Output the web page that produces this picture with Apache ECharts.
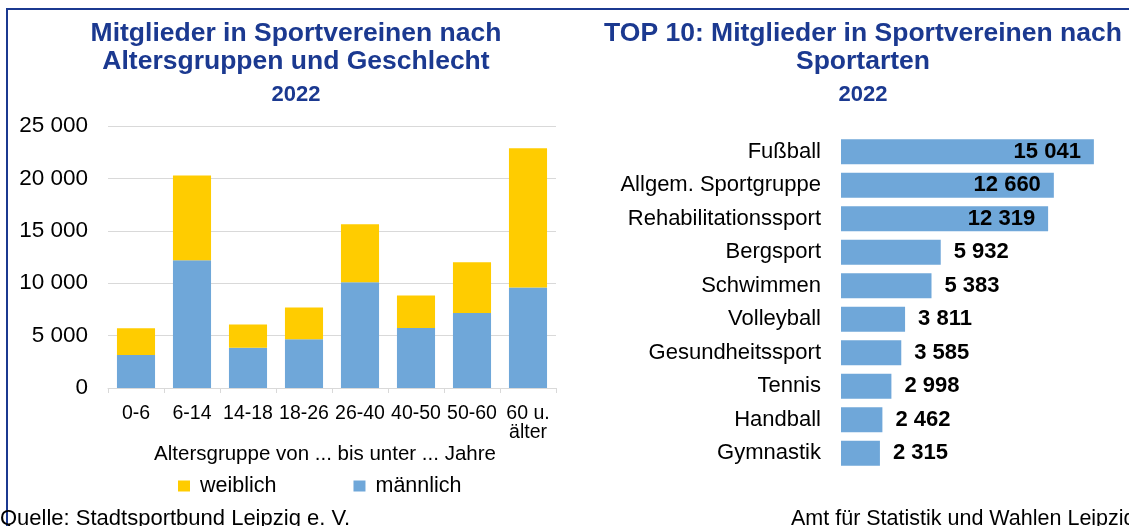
<!DOCTYPE html>
<html>
<head>
<meta charset="utf-8">
<script src="https://cdn.jsdelivr.net/npm/echarts@6/dist/echarts.min.js"></script>
<style>
  html, body { margin: 0; padding: 0; background: #fff; }
  #chart { width: 1129px; height: 526px; }
</style>
</head>
<body>
<div id="chart"></div>
<script>
// Mitglieder nach Altersgruppen und Geschlecht
const altersgruppen = ['0-6', '6-14', '14-18', '18-26', '26-40', '40-50', '50-60', '60 u.\nälter'];
const maennlich = [3150, 12200, 3840, 4640, 10100, 5720, 7150, 9600];
const weiblich = [2550, 8080, 2230, 3050, 5530, 3110, 4860, 13280];

// TOP 10 Sportarten
const sportarten = ['Fußball', 'Allgem. Sportgruppe', 'Rehabilitationssport', 'Bergsport', 'Schwimmen',
  'Volleyball', 'Gesundheitssport', 'Tennis', 'Handball', 'Gymnastik'];
const mitglieder = [15041, 12660, 12319, 5932, 5383, 3811, 3585, 2998, 2462, 2315];

const yTicks = { min: 0, max: 25000, interval: 5000 };

const FONT = '"Liberation Sans", Arial, sans-serif';
const TITLE_BLUE = '#1B3990';
const BLUE = '#6FA7D9';
const YELLOW = '#FFCC00';
const GRID_GRAY = '#D9D9D9';

const fmt = v => String(v).replace(/\B(?=(\d{3})+(?!\d))/g, ' ');

const chart = echarts.init(document.getElementById('chart'), null, { renderer: 'canvas' });

const titleStyle = { fontFamily: FONT, fontSize: 26.5, fontWeight: 'bold', color: TITLE_BLUE, lineHeight: 28 };
const yearStyle = { fontFamily: FONT, fontSize: 22, fontWeight: 'bold', color: TITLE_BLUE, lineHeight: 24 };

const option = {
  animation: false,
  textStyle: { fontFamily: FONT },
  title: [
    {
      text: 'Mitglieder in Sportvereinen nach\nAltersgruppen und Geschlecht',
      subtext: '2022',
      left: 291, top: 15, textAlign: 'center', itemGap: 7,
      textStyle: titleStyle, subtextStyle: yearStyle
    },
    {
      text: 'TOP 10: Mitglieder in Sportvereinen nach\nSportarten',
      subtext: '2022',
      left: 858, top: 15, textAlign: 'center', itemGap: 7,
      textStyle: titleStyle, subtextStyle: yearStyle
    }
  ],
  legend: {
    data: ['weiblich', 'männlich'],
    left: 173, top: 470,
    icon: 'rect', itemWidth: 12, itemHeight: 11, itemGap: 77,
    textStyle: { fontFamily: FONT, fontSize: 21.5, color: '#000', padding: [0, 0, 0, 5] }
  },
  grid: [
    { left: 108, top: 126, width: 448, height: 262 },
    { left: 841, top: 135, right: 19, height: 335 }
  ],
  xAxis: [
    {
      gridIndex: 0, type: 'category', data: altersgruppen,
      name: 'Altersgruppe von ... bis unter ... Jahre',
      nameLocation: 'middle', nameGap: 48,
      nameTextStyle: { fontFamily: FONT, fontSize: 20.5, color: '#000', padding: [0, 14, 0, 0] },
      axisLine: { lineStyle: { color: GRID_GRAY, width: 1 } },
      axisTick: { show: true, length: 5, lineStyle: { color: GRID_GRAY } },
      axisLabel: { fontFamily: FONT, fontSize: 19.5, color: '#000', margin: 16, lineHeight: 19, interval: 0 }
    },
    {
      gridIndex: 1, type: 'value', min: 0, max: 16000, show: false
    }
  ],
  yAxis: [
    {
      gridIndex: 0, type: 'value', min: yTicks.min, max: yTicks.max, interval: yTicks.interval,
      axisLine: { show: false }, axisTick: { show: false },
      splitLine: { lineStyle: { color: GRID_GRAY, width: 1 } },
      axisLabel: { fontFamily: FONT, fontSize: 22.5, color: '#000', margin: 20, formatter: fmt }
    },
    {
      gridIndex: 1, type: 'category', data: sportarten, inverse: true,
      axisLine: { show: false }, axisTick: { show: false },
      axisLabel: { fontFamily: FONT, fontSize: 22, color: '#000', margin: 20 }
    }
  ],
  series: [
    {
      name: 'männlich', type: 'bar', stack: 'alter', xAxisIndex: 0, yAxisIndex: 0,
      data: maennlich, barWidth: '68%', itemStyle: { color: BLUE }
    },
    {
      name: 'weiblich', type: 'bar', stack: 'alter', xAxisIndex: 0, yAxisIndex: 0,
      data: weiblich, barWidth: '68%', itemStyle: { color: YELLOW }
    },
    {
      name: 'Sportarten', type: 'bar', xAxisIndex: 1, yAxisIndex: 1,
      barWidth: 25, itemStyle: { color: BLUE },
      data: mitglieder.map(v => ({
        value: v,
        label: { position: v > 10000 ? 'insideRight' : 'right' }
      })),
      label: {
        show: true, distance: 13, fontFamily: FONT, fontSize: 22, fontWeight: 'bold', color: '#000',
        formatter: p => fmt(p.value)
      }
    }
  ],
  graphic: [
    { type: 'line', shape: { x1: 6, y1: 9, x2: 1129, y2: 9 }, style: { stroke: TITLE_BLUE, lineWidth: 2 } },
    { type: 'line', shape: { x1: 7, y1: 8, x2: 7, y2: 526 }, style: { stroke: TITLE_BLUE, lineWidth: 2 } },
    { type: 'text', style: { x: 0, y: 508, text: 'Quelle: Stadtsportbund Leipzig e. V.', fontFamily: FONT, fontSize: 22, fill: '#000' } },
    { type: 'text', style: { x: 791, y: 508, text: 'Amt für Statistik und Wahlen Leipzig', fontFamily: FONT, fontSize: 21.5, fill: '#000' } }
  ]
};

chart.setOption(option);
</script>
</body>
</html>
